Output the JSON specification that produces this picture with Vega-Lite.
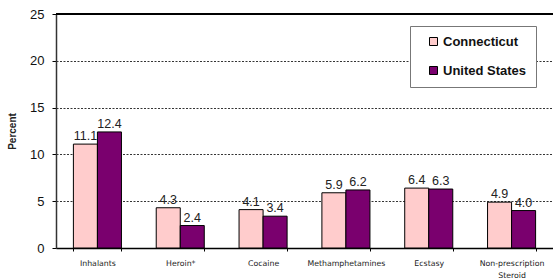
{
  "$schema": "https://vega.github.io/schema/vega-lite/v6.json",
  "width": 497,
  "height": 234,
  "autosize": {"type": "none"},
  "padding": {"left": 56, "top": 14, "right": 0, "bottom": 32},
  "background": "white",
  "config": {"view": {"stroke": null}, "font": "Liberation Sans"},
  "data": {
    "values": [
      {"drug": "Inhalants", "region": "Connecticut", "pct": 11.1},
      {"drug": "Inhalants", "region": "United States", "pct": 12.4},
      {"drug": "Heroin*", "region": "Connecticut", "pct": 4.3},
      {"drug": "Heroin*", "region": "United States", "pct": 2.4},
      {"drug": "Cocaine", "region": "Connecticut", "pct": 4.1},
      {"drug": "Cocaine", "region": "United States", "pct": 3.4},
      {"drug": "Methamphetamines", "region": "Connecticut", "pct": 5.9},
      {"drug": "Methamphetamines", "region": "United States", "pct": 6.2},
      {"drug": "Ecstasy", "region": "Connecticut", "pct": 6.4},
      {"drug": "Ecstasy", "region": "United States", "pct": 6.3},
      {"drug": "Non-prescription Steroid", "region": "Connecticut", "pct": 4.9},
      {"drug": "Non-prescription Steroid", "region": "United States", "pct": 4.0}
    ]
  },
  "encoding": {
    "x": {
      "field": "drug", "type": "nominal", "sort": null,
      "scale": {"paddingInner": 0.42, "paddingOuter": 0.21},
      "axis": {
        "title": null, "labelAngle": 0, "domainColor": "black", "domainWidth": 1.5,
        "tickBand": "extent", "tickColor": "black", "tickSize": 3,
        "labelFont": "DejaVu Sans", "labelFontSize": 7.8, "labelFontWeight": "normal",
        "labelColor": "#222", "labelPadding": 8, "labelLimit": 0,
        "labelExpr": "datum.value == 'Non-prescription Steroid' ? ['Non-prescription', 'Steroid'] : datum.value",
        "labelLineHeight": 12
      }
    },
    "xOffset": {"field": "region", "type": "nominal", "scale": {"paddingInner": 0, "paddingOuter": 0}},
    "y": {
      "field": "pct", "type": "quantitative",
      "scale": {"domain": [0, 25], "nice": false},
      "axis": {
        "title": "Percent", "titleFontSize": 10, "titleFontWeight": "bold", "titleColor": "#222",
        "titlePadding": 12,
        "values": [0, 5, 10, 15, 20, 25], "grid": true, "gridColor": "black", "gridDash": [2, 1.5],
        "gridWidth": 0.8,
        "domainColor": "#333", "domainWidth": 1.5, "tickColor": "black", "tickSize": 4,
        "labelFontSize": 13, "labelColor": "#111", "labelPadding": 8
      }
    }
  },
  "layer": [
    {
      "mark": {"type": "bar", "stroke": "black", "strokeWidth": 1},
      "encoding": {
        "color": {
          "field": "region", "type": "nominal",
          "scale": {"domain": ["Connecticut", "United States"], "range": ["#FFCCCC", "#7A006E"]},
          "legend": {
            "title": null, "orient": "none", "legendX": 354, "legendY": 12,
            "direction": "vertical", "symbolType": "square", "symbolSize": 64,
            "symbolStrokeColor": "black", "symbolStrokeWidth": 1, "symbolOffset": 8,
            "labelFontSize": 13, "labelFontWeight": "bold", "labelColor": "#111",
            "strokeColor": "#777", "fillColor": "white", "padding": 9,
            "rowPadding": 15, "labelOffset": 3,
            "offset": 0
          }
        }
      }
    },
    {
      "mark": {"type": "text", "dy": -8, "fontSize": 12.5, "color": "#222", "font": "Liberation Sans"},
      "encoding": {"text": {"field": "pct", "type": "quantitative", "format": ".1f"}}
    },
    {
      "mark": {"type": "rule", "color": "black", "strokeWidth": 1.5},
      "encoding": {"y": {"datum": 25}, "x": null, "xOffset": null}
    }
  ]
}
